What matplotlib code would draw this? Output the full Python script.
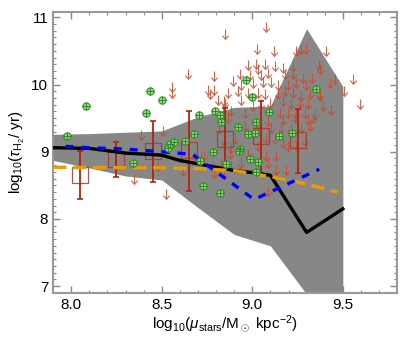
import numpy as np
import matplotlib
matplotlib.use("Agg")
import matplotlib.pyplot as plt
from matplotlib.path import Path
from matplotlib.ticker import MultipleLocator

plt.rcParams['font.family'] = ['Liberation Sans', 'DejaVu Sans']
plt.rcParams['mathtext.fontset'] = 'custom'
plt.rcParams['mathtext.rm'] = 'Liberation Sans'
plt.rcParams['mathtext.it'] = 'Liberation Sans:italic'

# Model spread (grey band)
band_x = [7.9, 8.1, 8.3, 8.5, 8.7, 8.9, 9.1, 9.3, 9.5]
band_hi = [9.26, 9.27, 9.29, 9.31, 9.52, 9.66, 9.68, 10.83, 9.97]
band_lo = [8.87, 8.76, 8.64, 8.58, 8.17, 7.77, 7.60, 6.88, 6.0]

# Model median (black)
med_x = [7.9, 8.1, 8.3, 8.5, 8.6, 8.9, 9.0, 9.1, 9.3, 9.5]
med_y = [9.06, 9.05, 8.98, 8.95, 8.87, 8.72, 8.69, 8.65, 7.80, 8.15]

# Blue dashed
blue_x = [7.97, 8.1, 8.3, 8.5, 8.67, 9.01, 9.37]
blue_y = [9.08, 9.06, 9.04, 9.00, 8.96, 8.29, 8.74]

# Orange dashed
orng_x = [7.9, 8.5, 8.7, 8.9, 9.1, 9.3, 9.47]
orng_y = [8.77, 8.76, 8.75, 8.72, 8.63, 8.52, 8.40]

# Binned observations (open squares with error bars)
box_x = [8.05, 8.25, 8.45, 8.65, 8.85, 9.05, 9.25]
box_y = [8.65, 8.89, 9.01, 9.03, 9.19, 9.23, 9.17]
box_lo = [8.29, 8.63, 8.55, 8.42, 8.73, 8.69, 8.68]
box_hi = [9.01, 9.14, 9.46, 9.61, 9.65, 9.75, 9.64]

# Detections (green circled plus)
det_x = [7.978, 8.079, 8.433, 8.503, 8.414, 8.339, 8.534, 8.547, 8.565, 8.628,
         8.676, 8.703, 8.727, 8.782, 8.796, 8.820, 8.826, 8.823, 8.856, 8.709,
         8.920, 8.930, 8.925, 8.963, 8.976, 8.989, 8.998, 9.017, 9.022, 9.022,
         9.031, 9.092, 9.145, 9.221, 9.354]
det_y = [9.23, 9.68, 9.90, 9.77, 9.57, 8.83, 9.06, 9.11, 9.14, 9.16,
         9.27, 9.55, 8.49, 8.99, 9.60, 9.55, 9.45, 8.39, 8.82, 8.86,
         9.37, 9.04, 9.01, 10.07, 9.26, 8.89, 9.82, 9.28, 9.44, 8.70,
         8.85, 9.59, 9.24, 9.28, 9.93]

# Upper limits (red arrows)
lim_x = [9.077, 8.847, 9.026, 9.118, 9.243, 9.271, 9.298, 9.368, 8.976, 9.022,
         9.068, 9.123, 9.169, 9.225, 9.031, 8.930, 8.985, 9.050, 9.086, 9.178,
         9.225, 9.280, 9.330, 8.893, 8.939, 9.004, 9.059, 9.105, 9.142, 9.197,
         9.243, 9.298, 8.865, 8.921, 8.976, 9.031, 9.068, 9.142, 9.178, 9.225,
         9.271, 9.317, 9.372, 8.847, 8.939, 9.004, 9.050, 9.096, 9.169, 9.215,
         9.261, 9.307, 9.390, 8.884, 8.957, 9.151, 9.197, 9.243, 9.289, 9.344,
         8.644, 8.788, 8.555, 8.754, 8.791, 8.769, 8.810, 8.846, 8.837,
         8.387, 8.506, 8.556, 8.346, 8.525,
         8.478, 8.616, 8.681, 8.718, 8.736, 8.782, 8.828, 8.791, 8.846, 8.815, 8.846,
         8.865, 9.086, 9.169, 9.234, 9.307, 9.335, 8.957, 9.105, 9.160, 9.215,
         9.271, 9.317, 8.902, 9.077, 9.123, 9.169, 9.197, 9.243, 9.289, 8.884,
         9.031, 8.875, 8.976, 9.077, 9.133, 9.086, 8.939, 8.884, 9.188, 9.133,
         9.086, 9.031,
         9.405, 9.556, 9.597, 9.455, 9.427, 9.505, 9.372, 9.372, 9.436]
lim_y = [10.93, 10.82, 10.60, 10.57, 10.57, 10.60, 10.61, 10.36, 10.37, 10.38,
         10.38, 10.35, 10.32, 10.35, 10.30, 10.23, 10.22, 10.22, 10.25, 10.23,
         10.23, 10.17, 10.17, 10.12, 10.07, 10.10, 10.11, 10.11, 10.07, 10.07,
         10.10, 10.07, 9.95, 9.98, 9.95, 9.95, 9.93, 9.93, 9.98, 9.95,
         9.90, 9.93, 9.90, 9.80, 9.85, 9.75, 9.78, 9.80, 9.83, 9.78,
         9.80, 9.78, 9.75, 9.68, 9.65, 9.65, 9.65, 9.63, 9.65, 9.63,
         10.23, 10.20, 10.04, 10.00, 10.00, 9.93, 9.85, 9.83, 9.70,
         9.33, 9.39, 9.95, 8.67, 8.45,
         8.86, 8.79, 9.01, 8.99, 9.03, 8.86, 8.89, 8.76, 8.74, 9.41, 9.23,
         9.58, 9.53, 9.55, 9.58, 9.55, 9.58, 9.46, 9.43, 9.43, 9.41,
         9.43, 9.46, 9.26, 9.28, 9.26, 9.21, 9.16, 9.18, 9.23, 9.13,
         9.16, 9.04, 9.04, 9.01, 9.01, 8.91, 8.91, 8.86, 8.81, 8.81,
         8.49, 9.48,
         10.58, 10.15, 9.79, 10.15, 10.10, 9.98, 10.30, 9.93, 9.70]

arrow = Path([(0, 0), (0, -1), (-0.33, -0.62), (0, -1), (0.33, -0.62)],
             [Path.MOVETO, Path.LINETO, Path.MOVETO, Path.LINETO, Path.LINETO])

fig = plt.figure(figsize=(4.15, 3.41), dpi=100)
ax = fig.add_axes([0.128, 0.141, 0.829, 0.824])

ax.fill_between(band_x, band_lo, band_hi, color='#878787', lw=0, zorder=1)

# Upper limits
ax.plot(lim_x, lim_y, ls='none', marker=arrow, ms=14, mfc='none',
        mec='#cc4a2e', mew=0.8, alpha=0.85, zorder=3)

# Binned boxes with error bars
ax.plot(box_x, box_y, ls='none', marker='s', ms=12, mfc='none',
        mec='#a8382a', mew=0.9, alpha=0.85, zorder=4)
ax.errorbar(box_x, box_y,
            yerr=[np.array(box_y) - np.array(box_lo), np.array(box_hi) - np.array(box_y)],
            fmt='none', ecolor='#b3230c', elinewidth=1.3, capsize=2.5, capthick=1.2, zorder=4)

# Model lines
ax.plot(med_x, med_y, color='black', lw=2.4, zorder=5)
ax.plot(orng_x, orng_y, color='#eb9a05', lw=2.4, dashes=(4, 2), zorder=5)
ax.plot(blue_x, blue_y, color='#0000ff', lw=2.4, dashes=(2.4, 2.4), zorder=5)

# Detections
ax.plot(det_x, det_y, ls='none', marker='o', ms=5.2, mfc='#a9d79a',
        mec='#2a8f1c', mew=0.9, alpha=0.9, zorder=6)
ax.plot(det_x, det_y, ls='none', marker='+', ms=5.2, mec='#2a8f1c',
        mew=0.8, zorder=6)

ax.set_xlim(7.9, 9.8)
ax.set_ylim(6.9, 11.08)
ax.xaxis.set_major_locator(MultipleLocator(0.5))
ax.xaxis.set_minor_locator(MultipleLocator(0.1))
ax.yaxis.set_major_locator(MultipleLocator(1))
ax.yaxis.set_minor_locator(MultipleLocator(0.1))
ax.xaxis.set_major_formatter(plt.FormatStrFormatter('%.1f'))
ax.tick_params(which='both', direction='in', top=True, right=True,
               color='#888888', labelsize=11)
ax.tick_params(which='major', length=5, width=1.0)
ax.tick_params(which='minor', length=2.5, width=0.8)
for s in ax.spines.values():
    s.set_color('#999999')
    s.set_linewidth(1.5)

ax.set_xlabel(r'log$_{10}$($\mu_{\rm stars}$/M$_\odot$ kpc$^{-2}$)', fontsize=11, labelpad=1)
ax.set_ylabel(r'log$_{10}$($\tau_{\rm H_2}$/ yr)', fontsize=11, labelpad=3)

fig.savefig('out.png', dpi=100)
